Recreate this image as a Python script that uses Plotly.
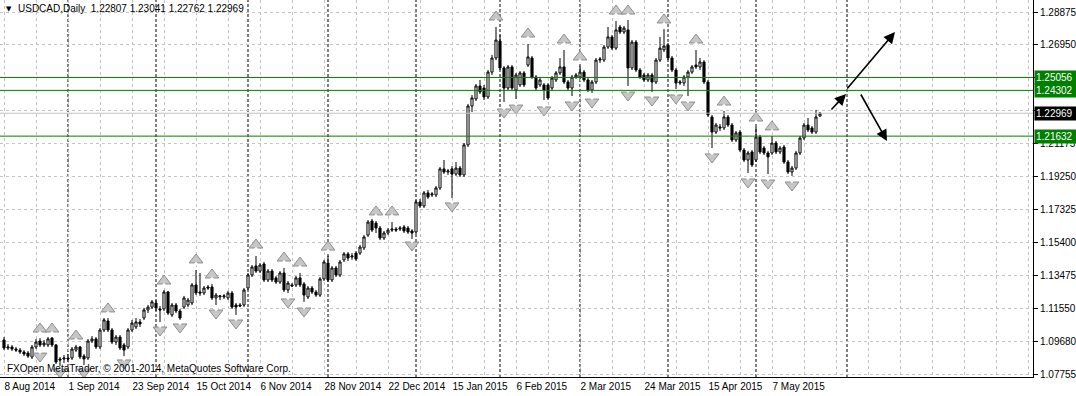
import plotly.graph_objects as go

# ---------------- data ----------------
opens = [
    1.0974, 1.0927, 1.0933, 1.0921, 1.0915, 1.0904, 1.0898, 1.0875, 1.0933, 1.0968,
    1.0945, 1.0945, 1.0985, 1.0945, 1.0863, 1.0863, 1.0869, 1.0869, 1.0915, 1.0933,
    1.0880, 1.0869, 1.0968, 1.0980, 1.0933, 1.1032, 1.1085, 1.1032, 1.0962, 1.0991,
    1.0945, 1.0933, 1.1032, 1.1050, 1.1079, 1.1102, 1.1149, 1.1166, 1.1190, 1.1155,
    1.1155, 1.1254, 1.1120, 1.1178, 1.1143, 1.1166, 1.1178, 1.1190, 1.1295, 1.1254,
    1.1248, 1.1283, 1.1283, 1.1219, 1.1225, 1.1225, 1.1219, 1.1248, 1.1178, 1.1178,
    1.1178, 1.1277, 1.1353, 1.1406, 1.1376, 1.1417, 1.1324, 1.1376, 1.1336, 1.1312,
    1.1365, 1.1266, 1.1295, 1.1295, 1.1336, 1.1301, 1.1225, 1.1277, 1.1254, 1.1236,
    1.1330, 1.1423, 1.1324, 1.1394, 1.1353, 1.1441, 1.1476, 1.1458, 1.1481, 1.1481,
    1.1511, 1.1586, 1.1668, 1.1656, 1.1627, 1.1569, 1.1598, 1.1615, 1.1621, 1.1621,
    1.1633, 1.1627, 1.1610, 1.1604, 1.1779, 1.1756, 1.1832, 1.1820, 1.1820, 1.1861,
    1.1972, 1.1954, 1.1972, 1.1942, 1.1977, 1.1937, 1.2112, 1.2339, 1.2380, 1.2456,
    1.2444, 1.2392, 1.2537, 1.2619, 1.2718, 1.2561, 1.2444, 1.2567, 1.2432, 1.2462,
    1.2532, 1.2578, 1.2619, 1.2508, 1.2462, 1.2462, 1.2462, 1.2444, 1.2491, 1.2532,
    1.2567, 1.2479, 1.2444, 1.2508, 1.2508, 1.2537, 1.2491, 1.2432, 1.2479, 1.2607,
    1.2607, 1.2683, 1.2742, 1.2677, 1.2800, 1.2771, 1.2783, 1.2561, 1.2712, 1.2549,
    1.2520, 1.2491, 1.2520, 1.2479, 1.2607, 1.2666, 1.2695, 1.2619, 1.2549, 1.2473,
    1.2473, 1.2508, 1.2537, 1.2578, 1.2567, 1.2596, 1.2479, 1.2275, 1.2187, 1.2217,
    1.2211, 1.2275, 1.2228, 1.2141, 1.2187, 1.2082, 1.2024, 1.2071, 1.2024, 1.2158,
    1.2094, 1.2065, 1.2065, 1.2123, 1.2071, 1.2100, 1.2012, 1.1954, 1.1977, 1.2065,
    1.2152, 1.2228, 1.2211, 1.2187, 1.22807,
]
highs = [
    1.0991, 1.0950, 1.0945, 1.0933, 1.0927, 1.0915, 1.0910, 1.0945, 1.0980, 1.0985,
    1.0974, 1.0991, 1.0991, 1.0950, 1.0875, 1.0886, 1.0892, 1.0933, 1.0945, 1.0939,
    1.0892, 1.0980, 1.0997, 1.0991, 1.1044, 1.1102, 1.1102, 1.1044, 1.1003, 1.1003,
    1.0956, 1.1044, 1.1091, 1.1102, 1.1096, 1.1161, 1.1178, 1.1207, 1.1207, 1.1172,
    1.1266, 1.1260, 1.1190, 1.1190, 1.1155, 1.1231, 1.1219, 1.1306, 1.1382, 1.1365,
    1.1289, 1.1295, 1.1301, 1.1248, 1.1236, 1.1242, 1.1260, 1.1260, 1.1190, 1.1190,
    1.1277, 1.1365, 1.1411, 1.1464, 1.1423, 1.1429, 1.1388, 1.1388, 1.1347, 1.1376,
    1.1394, 1.1318, 1.1306, 1.1347, 1.1365, 1.1312, 1.1289, 1.1289, 1.1266, 1.1341,
    1.1441, 1.1464, 1.1406, 1.1406, 1.1441, 1.1487, 1.1487, 1.1481, 1.1493, 1.1528,
    1.1586, 1.1674, 1.1680, 1.1668, 1.1639, 1.1610, 1.1627, 1.1662, 1.1633, 1.1639,
    1.1645, 1.1639, 1.1621, 1.1791, 1.1797, 1.1843, 1.1849, 1.1837, 1.1872, 1.1983,
    1.2024, 1.1972, 1.1989, 1.2012, 1.1989, 1.2123, 1.2351, 1.2403, 1.2467, 1.2491,
    1.2462, 1.2549, 1.2637, 1.2800, 1.2753, 1.2572, 1.2578, 1.2578, 1.2532, 1.2543,
    1.2543, 1.2701, 1.2631, 1.2520, 1.2502, 1.2473, 1.2473, 1.2514, 1.2543, 1.2619,
    1.2666, 1.2491, 1.2520, 1.2532, 1.2572, 1.2549, 1.2502, 1.2491, 1.2619, 1.2625,
    1.2695, 1.2800, 1.2753, 1.2835, 1.2812, 1.2806, 1.2841, 1.2724, 1.2724, 1.2561,
    1.2532, 1.2532, 1.2532, 1.2619, 1.2742, 1.2788, 1.2707, 1.2631, 1.2561, 1.2491,
    1.2520, 1.2549, 1.2578, 1.2666, 1.2619, 1.2607, 1.2491, 1.2287, 1.2240, 1.2234,
    1.2310, 1.2287, 1.2240, 1.2193, 1.2199, 1.2094, 1.2077, 1.2082, 1.2217, 1.2170,
    1.2106, 1.2077, 1.2164, 1.2135, 1.2106, 1.2112, 1.2024, 1.1989, 1.2077, 1.2164,
    1.2240, 1.2269, 1.2222, 1.2316, 1.23041,
]
lows = [
    1.0915, 1.0915, 1.0910, 1.0904, 1.0892, 1.0880, 1.0869, 1.0863, 1.0921, 1.0933,
    1.0933, 1.0933, 1.0933, 1.0834, 1.0822, 1.0840, 1.0845, 1.0857, 1.0904, 1.0863,
    1.0828, 1.0857, 1.0956, 1.0921, 1.0921, 1.1020, 1.1020, 1.0950, 1.0945, 1.0915,
    1.0880, 1.0921, 1.1020, 1.1038, 1.1050, 1.1091, 1.1131, 1.1155, 1.1143, 1.1079,
    1.1143, 1.1120, 1.1108, 1.1131, 1.1091, 1.1155, 1.1166, 1.1178, 1.1236, 1.1231,
    1.1236, 1.1266, 1.1207, 1.1178, 1.1207, 1.1213, 1.1207, 1.1155, 1.1120, 1.1166,
    1.1166, 1.1266, 1.1341, 1.1365, 1.1365, 1.1312, 1.1312, 1.1312, 1.1301, 1.1301,
    1.1254, 1.1248, 1.1283, 1.1283, 1.1283, 1.1196, 1.1213, 1.1242, 1.1225, 1.1225,
    1.1318, 1.1312, 1.1312, 1.1341, 1.1341, 1.1429, 1.1435, 1.1441, 1.1435, 1.1470,
    1.1499, 1.1575, 1.1604, 1.1598, 1.1557, 1.1557, 1.1586, 1.1604, 1.1604, 1.1610,
    1.1598, 1.1592, 1.1563, 1.1592, 1.1744, 1.1744, 1.1797, 1.1808, 1.1808, 1.1849,
    1.1942, 1.1937, 1.1802, 1.1931, 1.1925, 1.1925, 1.2100, 1.2304, 1.2368, 1.2409,
    1.2374, 1.2380, 1.2520, 1.2607, 1.2549, 1.2362, 1.2432, 1.2432, 1.2380, 1.2450,
    1.2450, 1.2567, 1.2497, 1.2432, 1.2450, 1.2374, 1.2374, 1.2432, 1.2479, 1.2520,
    1.2467, 1.2432, 1.2397, 1.2497, 1.2497, 1.2479, 1.2421, 1.2415, 1.2467, 1.2590,
    1.2596, 1.2672, 1.2666, 1.2666, 1.2759, 1.2759, 1.2456, 1.2549, 1.2537, 1.2497,
    1.2479, 1.2479, 1.2421, 1.2467, 1.2596, 1.2654, 1.2607, 1.2537, 1.2438, 1.2462,
    1.2456, 1.2397, 1.2526, 1.2555, 1.2549, 1.2467, 1.2275, 1.2094, 1.2176, 1.2193,
    1.2199, 1.2217, 1.2129, 1.2129, 1.2071, 1.2012, 1.1948, 1.1983, 1.2012, 1.2059,
    1.2053, 1.1942, 1.2053, 1.2059, 1.2059, 1.2001, 1.1942, 1.1931, 1.1966, 1.2053,
    1.2141, 1.2187, 1.2176, 1.2176, 1.22762,
]
closes = [
    1.0927, 1.0933, 1.0921, 1.0915, 1.0904, 1.0892, 1.0880, 1.0933, 1.0962, 1.0945,
    1.0956, 1.0980, 1.0945, 1.0845, 1.0857, 1.0869, 1.0863, 1.0921, 1.0933, 1.0875,
    1.0863, 1.0968, 1.0980, 1.0933, 1.1032, 1.1091, 1.1032, 1.0962, 1.0991, 1.0927,
    1.0915, 1.1032, 1.1073, 1.1079, 1.1067, 1.1149, 1.1166, 1.1196, 1.1161, 1.1149,
    1.1254, 1.1131, 1.1178, 1.1143, 1.1102, 1.1219, 1.1207, 1.1295, 1.1248, 1.1248,
    1.1277, 1.1277, 1.1219, 1.1236, 1.1231, 1.1231, 1.1248, 1.1166, 1.1166, 1.1172,
    1.1266, 1.1353, 1.1400, 1.1376, 1.1411, 1.1324, 1.1376, 1.1324, 1.1312, 1.1365,
    1.1266, 1.1306, 1.1289, 1.1336, 1.1295, 1.1236, 1.1277, 1.1254, 1.1236, 1.1330,
    1.1429, 1.1324, 1.1394, 1.1353, 1.1429, 1.1476, 1.1452, 1.1464, 1.1446, 1.1516,
    1.1575, 1.1662, 1.1615, 1.1627, 1.1569, 1.1598, 1.1615, 1.1621, 1.1615, 1.1627,
    1.1610, 1.1604, 1.1598, 1.1779, 1.1756, 1.1832, 1.1808, 1.1826, 1.1861, 1.1972,
    1.1954, 1.1960, 1.1942, 1.1977, 1.1937, 1.2112, 1.2339, 1.2386, 1.2456, 1.2421,
    1.2392, 1.2537, 1.2619, 1.2724, 1.2561, 1.2444, 1.2567, 1.2444, 1.2520, 1.2532,
    1.2462, 1.2625, 1.2508, 1.2444, 1.2491, 1.2432, 1.2386, 1.2502, 1.2532, 1.2567,
    1.2479, 1.2444, 1.2508, 1.2520, 1.2537, 1.2491, 1.2432, 1.2479, 1.2607, 1.2613,
    1.2683, 1.2742, 1.2677, 1.2783, 1.2771, 1.2794, 1.2561, 1.2712, 1.2549, 1.2508,
    1.2491, 1.2520, 1.2479, 1.2607, 1.2677, 1.2689, 1.2619, 1.2549, 1.2473, 1.2479,
    1.2508, 1.2537, 1.2567, 1.2567, 1.2596, 1.2479, 1.2287, 1.2187, 1.2228, 1.2211,
    1.2275, 1.2228, 1.2141, 1.2182, 1.2082, 1.2024, 1.2065, 1.1995, 1.2158, 1.2071,
    1.2065, 1.2042, 1.2123, 1.2071, 1.2094, 1.2012, 1.1954, 1.1977, 1.2065, 1.2152,
    1.2228, 1.2199, 1.2187, 1.2275, 1.22969,
]

label_bars = [0, 16, 32, 48, 64, 80, 96, 112, 128, 144, 160, 176, 192]
label_texts = ["8 Aug 2014", "1 Sep 2014", "23 Sep 2014", "15 Oct 2014", "6 Nov 2014",
               "28 Nov 2014", "22 Dec 2014", "15 Jan 2015", "6 Feb 2015", "2 Mar 2015",
               "24 Mar 2015", "15 Apr 2015", "7 May 2015"]
month_start_bars = [16, 38, 61, 81, 103, 124, 144, 166, 188, 210.75]
price_ticks = [1.28875, 1.26950, 1.25025, 1.23100, 1.21175, 1.19250, 1.17325,
               1.15400, 1.13475, 1.11550, 1.09680, 1.07755]
# tick labels that the reference hides behind the price boxes
hidden_ticks = [1.25025, 1.23100]

up_fractal_bars = [9, 12, 18, 26, 40, 48, 52, 63, 70, 74, 81, 93, 97, 123, 131, 140,
                   144, 153, 156, 165, 173, 180, 188, 192]
up_fractal_prices = [1.1038, 1.1038, 1.0997, 1.1155, 1.1318, 1.1441, 1.1353, 1.1528,
                     1.1452, 1.1423, 1.1516, 1.1721, 1.1721, 1.2858, 1.2759, 1.2724,
                     1.2625, 1.2893, 1.2893, 1.2841, 1.2724, 1.2362, 1.2269, 1.2217]
down_fractal_bars = [9, 14, 20, 30, 39, 44, 53, 58, 71, 75, 102, 112, 125, 128, 135,
                     142, 147, 156, 162, 168, 171, 177, 186, 191, 197]
down_fractal_prices = [1.0880, 1.0787, 1.0787, 1.0840, 1.1032, 1.1050, 1.1131, 1.1073,
                       1.1196, 1.1143, 1.1528, 1.1756, 1.2304, 1.2327, 1.2316, 1.2345,
                       1.2362, 1.2403, 1.2374, 1.2386, 1.2345, 1.2042, 1.1896, 1.1890,
                       1.1878]

level_prices = [1.25056, 1.24302, 1.21632]
bid_price = 1.22969

# drawn arrows: (tail bar, tail price, head bar, head price)
arrow_tail_bars = [206.5, 210.5, 214.0]
arrow_tail_prices = [1.2310, 1.2432, 1.2415]
arrow_head_bars = [210.5, 222.75, 220.75]
arrow_head_prices = [1.2409, 1.2771, 1.2135]

title_text = "USDCAD,Daily  1.22807 1.23041 1.22762 1.22969"
copyright_text = "FXOpen MetaTrader, \u00a9 2001-2014, MetaQuotes Software Corp."

# ---------------- layout geometry ----------------
W, H = 1076, 396
PLOT_H = 377
Y_TOP = 1.295751
Y_BOT = 1.075798
PX = (Y_TOP - Y_BOT) / PLOT_H  # price per pixel

FONT = "Liberation Sans"
bars = list(range(len(opens)))

fig = go.Figure()

fig.add_trace(go.Candlestick(
    x=bars, open=opens, high=highs, low=lows, close=closes,
    increasing=dict(line=dict(color="black", width=1), fillcolor="white"),
    decreasing=dict(line=dict(color="black", width=1), fillcolor="black"),
    whiskerwidth=0, hoverinfo="skip", showlegend=False,
))

# fractal markers (light gray arrowheads with a notch)
FR_FILL, FR_LINE = "#c6c6c6", "#8e8e8e"
fig.add_trace(go.Scatter(
    x=up_fractal_bars, y=up_fractal_prices, mode="markers",
    marker=dict(symbol="triangle-up", size=12, color=FR_FILL,
                line=dict(color=FR_LINE, width=1)),
    hoverinfo="skip", showlegend=False))
fig.add_trace(go.Scatter(
    x=up_fractal_bars, y=[p - 4 * PX for p in up_fractal_prices], mode="markers",
    marker=dict(symbol="triangle-up", size=5, color="white", line=dict(width=0)),
    hoverinfo="skip", showlegend=False))
fig.add_trace(go.Scatter(
    x=down_fractal_bars, y=down_fractal_prices, mode="markers",
    marker=dict(symbol="triangle-down", size=12, color=FR_FILL,
                line=dict(color=FR_LINE, width=1)),
    hoverinfo="skip", showlegend=False))
fig.add_trace(go.Scatter(
    x=down_fractal_bars, y=[p + 4 * PX for p in down_fractal_prices], mode="markers",
    marker=dict(symbol="triangle-down", size=5, color="white", line=dict(width=0)),
    hoverinfo="skip", showlegend=False))

# month separators
for b in month_start_bars:
    fig.add_shape(type="line", x0=b, x1=b, y0=0, y1=1, xref="x", yref="paper",
                  line=dict(color="black", width=1, dash="3px,2px"), layer="below")

# horizontal levels
fig.add_shape(type="line", x0=0, x1=1, xref="paper", y0=bid_price, y1=bid_price,
              yref="y", line=dict(color="#c0c0c0", width=1))
for p in level_prices:
    fig.add_shape(type="line", x0=0, x1=1, xref="paper", y0=p, y1=p, yref="y",
                  line=dict(color="#008000", width=1))

annotations = []
# price boxes on the right
for p in level_prices:
    annotations.append(dict(x=1, xref="paper", xanchor="left", xshift=1, y=p, yref="y",
                            text=f"{p:.5f}", showarrow=False, bgcolor="#008000",
                            font=dict(family=FONT, size=10, color="white"),
                            width=40, height=11, align="left", borderpad=1))
annotations.append(dict(x=1, xref="paper", xanchor="left", xshift=1, y=bid_price, yref="y",
                        text=f"{bid_price:.5f}", showarrow=False, bgcolor="black",
                        font=dict(family=FONT, size=10, color="white"),
                        width=40, height=11, align="left", borderpad=1))
# drawn arrows
for tb, tp, hb, hp in zip(arrow_tail_bars, arrow_tail_prices, arrow_head_bars, arrow_head_prices):
    annotations.append(dict(x=hb, y=hp, xref="x", yref="y", ax=tb, ay=tp,
                            axref="x", ayref="y", showarrow=True, arrowhead=2,
                            arrowsize=1.4, arrowwidth=1.6, arrowcolor="black", text=""))
# title
annotations.append(dict(x=0, xref="paper", xanchor="left", xshift=4, y=1, yref="paper",
                        yanchor="top", yshift=-3, text="\u25bc", showarrow=False,
                        font=dict(family="DejaVu Sans", size=7, color="black")))
annotations.append(dict(x=0, xref="paper", xanchor="left", xshift=16, y=1, yref="paper",
                        yanchor="top", yshift=-1, text=title_text, showarrow=False,
                        font=dict(family=FONT, size=10, color="black")))
annotations.append(dict(x=0, xref="paper", xanchor="left", xshift=5, y=0, yref="paper",
                        yanchor="bottom", yshift=1, text=copyright_text, showarrow=False,
                        font=dict(family=FONT, size=10, color="black")))

grid_bars = list(range(0, 257, 8))
grid_text = [label_texts[label_bars.index(b)] if b in label_bars else "" for b in grid_bars]

fig.update_layout(
    width=W, height=H,
    margin=dict(l=0, r=W - 1033, t=0, b=H - PLOT_H, autoexpand=False),
    paper_bgcolor="white", plot_bgcolor="white",
    annotations=annotations, boxgap=0.25, showlegend=False,
    xaxis=dict(range=[-1, 257.25], tickvals=grid_bars, ticktext=grid_text,
               tickangle=0, automargin=False,
               ticklabelposition="outside right", showgrid=True, gridcolor="#c4c4c4",
               griddash="3px,3px", gridwidth=1, showline=True, linecolor="black",
               linewidth=1, ticks="", zeroline=False, rangeslider=dict(visible=False),
               tickfont=dict(family=FONT, size=10, color="black"), fixedrange=True),
    yaxis=dict(range=[Y_BOT, Y_TOP], side="right", tickvals=price_ticks,
               ticktext=["" if v in hidden_ticks else f"{v:.5f}" for v in price_ticks],
               ticks="outside", ticklen=4, automargin=False,
               tickcolor="black", showgrid=True, gridcolor="#c4c4c4", griddash="3px,3px",
               gridwidth=1, showline=True, linecolor="black", linewidth=1,
               zeroline=False, tickfont=dict(family=FONT, size=10, color="black"),
               fixedrange=True),
)

fig.write_html("out.html")
